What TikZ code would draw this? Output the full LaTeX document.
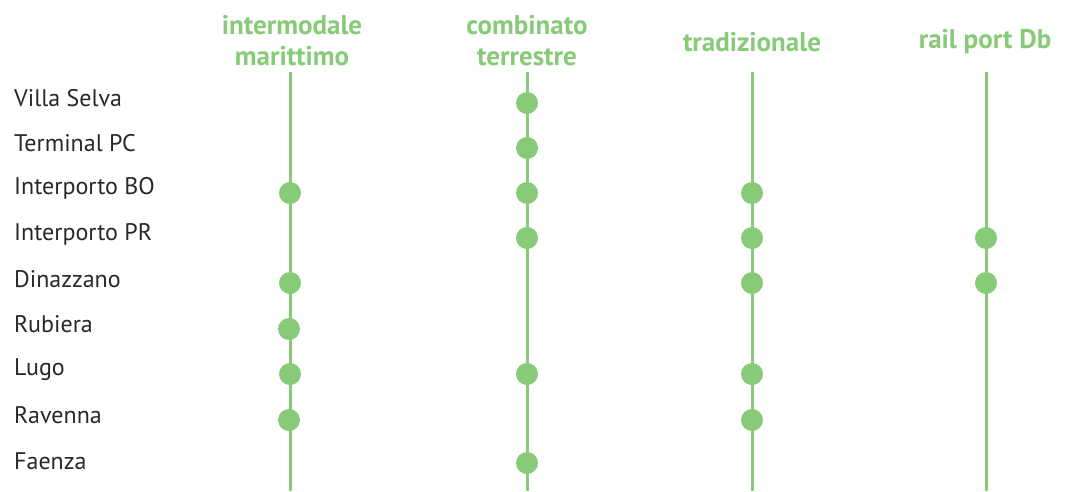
\documentclass[tikz,border=0pt]{standalone}
\usepackage{fontspec}
\setmainfont{PT Sans}
\definecolor{verde}{RGB}{135,202,120}
\definecolor{testo}{RGB}{40,40,40}
\tikzset{
  titolo/.style={text=verde, font=\bfseries\fontsize{27}{31}\selectfont, align=center},
  voce/.style={text=testo, anchor=west, font=\fontsize{24}{28}\selectfont, inner sep=0pt},
  linea/.style={verde, line width=3pt},
  pallino/.style={circle, fill=verde, minimum size=22pt, inner sep=0pt}
}
\begin{document}
\begin{tikzpicture}[x=1pt, y=-1pt]
      \useasboundingbox (0,0) rectangle (1065,491);

      % Titoli
      \node[titolo] (t1) at (292, 41) {intermodale\\marittimo};
      \node[titolo] (t2) at (527, 41) {combinato\\terrestre};
      \node[titolo] (t3) at (752, 42) {tradizionale};
      \node[titolo] (t4) at (985, 42) {rail port Db};

      % Linee
      \coordinate (a1) at (290, 72);  \coordinate (b1) at (290, 491);
      \coordinate (a2) at (527, 72);  \coordinate (b2) at (527, 491);
      \coordinate (a3) at (752, 72);  \coordinate (b3) at (752, 491);
      \coordinate (a4) at (986, 72);  \coordinate (b4) at (986, 491);
      \draw[linea] (a1) -- (b1);
      \draw[linea] (a2) -- (b2);
      \draw[linea] (a3) -- (b3);
      \draw[linea] (a4) -- (b4);

      % Voci
      \node[voce] (villa) at (14, 98) {Villa Selva};
      \node[voce] (pc) at (14, 143) {Terminal PC};
      \node[voce] (bo) at (14, 188) {Interporto BO};
      \node[voce] (pr) at (14, 234) {Interporto PR};
      \node[voce] (dina) at (14, 279) {Dinazzano};
      \node[voce] (rubiera) at (14, 324) {Rubiera};
      \node[voce] (lugo) at (14, 370) {Lugo};
      \node[voce] (ravenna) at (14, 415) {Ravenna};
      \node[voce] (faenza) at (14, 461) {Faenza};

      % Pallini
      \node[pallino] (villa2) at (527, 103) {};
      \node[pallino] (pc2) at (527, 148) {};
      \node[pallino] (bo1) at (290, 193) {};
      \node[pallino] (bo2) at (527, 193) {};
      \node[pallino] (bo3) at (752, 193) {};
      \node[pallino] (pr2) at (527, 238) {};
      \node[pallino] (pr3) at (752, 238) {};
      \node[pallino] (pr4) at (986, 238) {};
      \node[pallino] (dina1) at (290, 283) {};
      \node[pallino] (dina3) at (752, 283) {};
      \node[pallino] (dina4) at (986, 283) {};
      \node[pallino] (rubiera1) at (289, 329) {};
      \node[pallino] (lugo1) at (290, 374) {};
      \node[pallino] (lugo2) at (527, 374) {};
      \node[pallino] (lugo3) at (752, 374) {};
      \node[pallino] (ravenna1) at (289, 420) {};
      \node[pallino] (ravenna3) at (752, 420) {};
      \node[pallino] (faenza2) at (527, 463) {};
    \end{tikzpicture}
\end{document}
